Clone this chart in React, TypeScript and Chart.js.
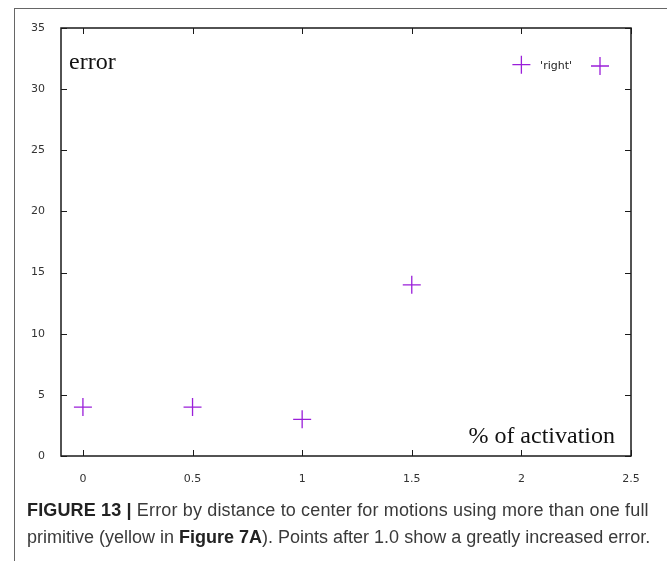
import React, { useEffect, useRef } from "react";
import { Chart, registerables } from "chart.js";

Chart.register(...registerables);

const xValues = [0, 0.5, 1, 1.5, 2];
const errorValues = [4, 4, 3, 14, 32];
const xTickValues = [0, 0.5, 1, 1.5, 2, 2.5];
const yTickValues = [0, 5, 10, 15, 20, 25, 30, 35];
const seriesLabel = "'right'";
const yTitle = "error";
const xTitle = "% of activation";
const pointColor = "#9a1fd9";

const frameTicks = {
  id: "frameTicks",
  afterDatasetsDraw(chart: any) {
    const { ctx, chartArea, scales } = chart;
    const { left, top, right, bottom } = chartArea;
    const xs = scales.x;
    const ys = scales.y;
    ctx.save();
    ctx.strokeStyle = "#1a1a1a";
    ctx.lineWidth = 1.5;
    ctx.strokeRect(left, top, right - left, bottom - top);
    ctx.lineWidth = 1;
    const tl = 6;
    ctx.beginPath();
    xTickValues.forEach((v) => {
      const px = Math.round(xs.getPixelForValue(v)) + 0.5;
      ctx.moveTo(px, bottom);
      ctx.lineTo(px, bottom - tl);
      ctx.moveTo(px, top);
      ctx.lineTo(px, top + tl);
    });
    yTickValues.forEach((v) => {
      const py = Math.round(ys.getPixelForValue(v)) + 0.5;
      ctx.moveTo(left, py);
      ctx.lineTo(left + tl, py);
      ctx.moveTo(right, py);
      ctx.lineTo(right - tl, py);
    });
    ctx.stroke();

    // axis titles inside plot (gnuplot style)
    ctx.fillStyle = "#111";
    ctx.font = '24px "Liberation Serif"';
    ctx.textBaseline = "alphabetic";
    ctx.textAlign = "left";
    ctx.fillText(yTitle, left + 8, top + 41);
    ctx.textAlign = "right";
    ctx.fillText(xTitle, right - 16, bottom - 13);

    // legend: label then sample marker
    const ly = top + 38;
    ctx.font = '11px "DejaVu Sans"';
    ctx.textAlign = "right";
    ctx.textBaseline = "middle";
    ctx.fillStyle = "#222";
    ctx.fillText(chart.data.datasets[0].label, right - 59, ly);
    const sx = right - 31;
    ctx.strokeStyle = pointColor;
    ctx.lineWidth = 1.3;
    ctx.beginPath();
    ctx.moveTo(sx - 9, ly);
    ctx.lineTo(sx + 9, ly);
    ctx.moveTo(sx, ly - 9);
    ctx.lineTo(sx, ly + 9);
    ctx.stroke();
    ctx.restore();
  },
};

function ChartView() {
  const ref = useRef<HTMLCanvasElement>(null);
  useEffect(() => {
    if (!ref.current) return;
    const chart = new Chart(ref.current, {
      type: "scatter",
      data: {
        datasets: [
          {
            label: seriesLabel,
            data: xValues.map((x, i) => ({ x, y: errorValues[i] })),
            pointStyle: "cross",
            pointRadius: 9,
            pointHoverRadius: 9,
            borderColor: pointColor,
            backgroundColor: pointColor,
            pointBorderWidth: 1.3,
            showLine: false,
          },
        ],
      },
      options: {
        animation: false,
        responsive: false,
        maintainAspectRatio: false,
        layout: { padding: { left: 11, top: 28, right: 36, bottom: 75 } },
        plugins: { legend: { display: false }, tooltip: { enabled: false } },
        scales: {
          x: {
            type: "linear",
            min: -0.1,
            max: 2.5,
            grid: { display: false },
            border: { display: false },
            afterBuildTicks: (s: any) => {
              s.ticks = xTickValues.map((v) => ({ value: v }));
            },
            afterFit: (s: any) => {
              s.height = 30;
            },
            ticks: {
              padding: 9,
              color: "#333",
              font: { family: "DejaVu Sans", size: 11 },
              callback: (v: any) => String(v),
              maxRotation: 0,
              autoSkip: false,
            },
          },
          y: {
            type: "linear",
            min: 0,
            max: 35,
            grid: { display: false },
            border: { display: false },
            afterBuildTicks: (s: any) => {
              s.ticks = yTickValues.map((v) => ({ value: v }));
            },
            afterFit: (s: any) => {
              s.width = 50;
            },
            ticks: {
              padding: 8,
              color: "#333",
              font: { family: "DejaVu Sans", size: 11 },
              callback: (v: any) => String(v),
              autoSkip: false,
            },
          },
        },
      },
      plugins: [frameTicks],
    });
    return () => chart.destroy();
  }, []);
  return (
    <canvas
      ref={ref}
      width={667}
      height={561}
      style={{ position: "absolute", left: 0, top: 0, width: 667, height: 561 }}
    />
  );
}

export default function App() {
  return (
    <div
      style={{
        position: "absolute",
        left: 0,
        top: 0,
        width: 667,
        height: 561,
        overflow: "hidden",
        background: "#fff",
      }}
    >
      <div
        style={{
          position: "absolute",
          left: 14,
          top: 8,
          width: 700,
          height: 600,
          borderLeft: "1.5px solid #666",
          borderTop: "1.5px solid #666",
        }}
      />
      <ChartView />
      <div
        style={{
          position: "absolute",
          left: 27,
          top: 497,
          width: 650,
          fontFamily: '"Liberation Sans", Arial, sans-serif',
          fontSize: 18,
          lineHeight: "27px",
          color: "#3a3a3a",
          whiteSpace: "nowrap",
        }}
      >
        <div style={{ letterSpacing: "0.15px" }}>
          <b style={{ color: "#222" }}>FIGURE 13 |</b> Error by distance to center for motions using more than one full
        </div>
        <div>
          primitive (yellow in <b style={{ color: "#222" }}>Figure 7A</b>). Points after 1.0 show a greatly increased error.
        </div>
      </div>
    </div>
  );
}
